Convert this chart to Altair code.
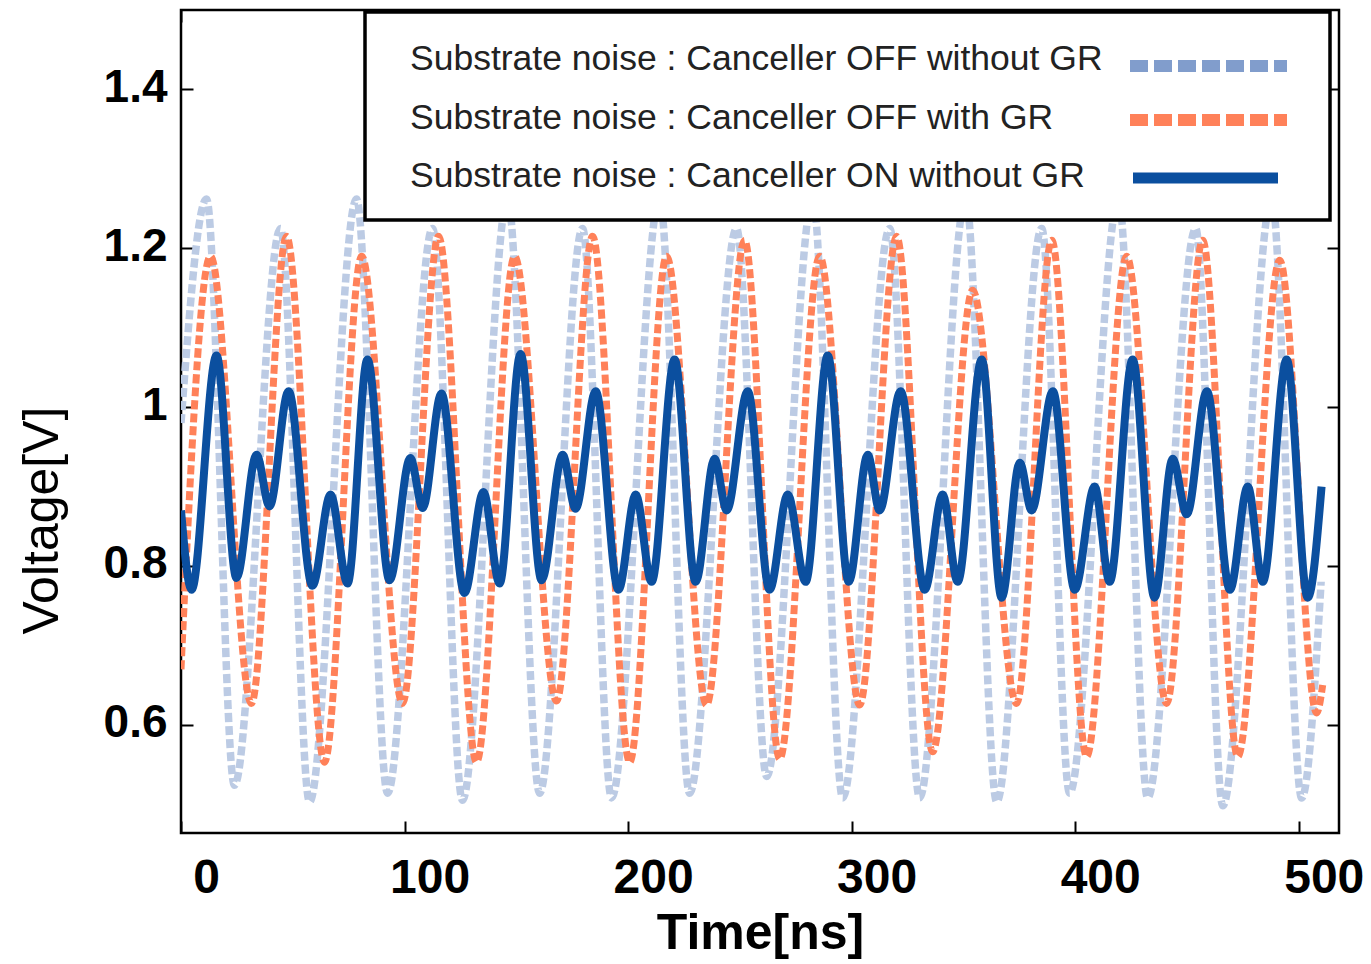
import altair as alt
import pandas as pd

# ---------------- data ----------------
series_names = [
    "Substrate noise : Canceller OFF without GR",
    "Substrate noise : Canceller OFF with GR",
    "Substrate noise : Canceller ON without GR",
]

# Canceller OFF without GR (light blue dashed) - extrema
t_off_nogr = [0, 11.4, 23.9, 44.5, 57.5, 78.5, 92.4, 112.5, 125.9, 146.1, 160.4,
              179.6, 192.6, 214.1, 227.5, 248.5, 262.0, 282.6, 296.0, 317.0, 330.4,
              351.0, 364.9, 385.0, 397.5, 419.4, 432.4, 453.9, 466.0, 487.9, 501.3, 510.0]
v_off_nogr = [0.98, 1.262, 0.524, 1.225, 0.503, 1.262, 0.514, 1.225, 0.505, 1.262, 0.514,
              1.225, 0.508, 1.262, 0.514, 1.225, 0.535, 1.262, 0.508, 1.225, 0.508,
              1.262, 0.503, 1.225, 0.514, 1.262, 0.508, 1.225, 0.498, 1.262, 0.508, 0.78]

# Canceller OFF with GR (orange dashed) - extrema
t_off_gr = [0, 13.2, 31.5, 47.2, 64.2, 80.8, 99.1, 115.2, 132.2, 149.2, 168.0,
            184.1, 200.7, 217.2, 235.1, 252.1, 267.8, 285.7, 303.6, 320.1, 336.2,
            354.1, 373.8, 389.5, 405.1, 423.0, 440.9, 457.0, 472.7, 491.5, 508.0, 510.7]
v_off_gr = [0.67, 1.19, 0.627, 1.215, 0.553, 1.19, 0.627, 1.215, 0.553, 1.19, 0.63,
            1.215, 0.553, 1.19, 0.625, 1.21, 0.557, 1.19, 0.625, 1.215, 0.566,
            1.147, 0.627, 1.21, 0.56, 1.19, 0.627, 1.21, 0.56, 1.185, 0.615, 0.65]

# Canceller ON without GR (dark blue solid) - extrema
t_on_nogr = [0, 4.7, 15.9, 24.8, 33.8, 39.6, 48.1, 58.8, 66.9, 74.5,
             83.4, 93.3, 102.6, 108.1, 116.5, 126.8, 135.3, 142.5,
             151.9, 161.3, 170.7, 176.5, 185.5, 195.7, 203.4, 210.5,
             220.8, 230.2, 238.7, 244.1, 253.5, 263.3, 271.4, 279.4,
             289.3, 298.7, 307.2, 312.5, 321.9, 332.7, 340.7, 347.4,
             358.2, 367.1, 375.2, 380.5, 390.0, 399.8, 408.7, 415.4,
             425.7, 435.5, 443.6, 449.9, 458.9, 469.2, 477.2, 483.9,
             494.6, 504.0, 510.2]
v_on_nogr = [0.87, 0.77, 1.065, 0.785, 0.94, 0.875, 1.02, 0.775, 0.89, 0.778,
             1.06, 0.782, 0.936, 0.873, 1.017, 0.766, 0.893, 0.778,
             1.067, 0.782, 0.94, 0.872, 1.02, 0.77, 0.89, 0.78,
             1.06, 0.78, 0.935, 0.87, 1.02, 0.77, 0.89, 0.78,
             1.065, 0.78, 0.94, 0.87, 1.02, 0.77, 0.89, 0.78,
             1.06, 0.76, 0.93, 0.87, 1.02, 0.77, 0.90, 0.78,
             1.06, 0.76, 0.935, 0.865, 1.02, 0.77, 0.90, 0.78,
             1.06, 0.76, 0.90]

x_ticks = [0, 100, 200, 300, 400, 500]
y_ticks = [0.6, 0.8, 1.0, 1.2, 1.4]

# ---------------- styling ----------------
FONT = "Liberation Sans"
W, H = 1158, 823
TICK = 12
c_lb, c_lb_leg = "#bccbe4", "#819dcc"
c_or = "#ff8159"
c_db = "#0b4f9f"

xscale = alt.Scale(domain=[0, 518], nice=False, zero=False)
yscale = alt.Scale(domain=[0.4638, 1.5], nice=False, zero=False)

ax_bottom = alt.Axis(orient="bottom", values=x_ticks, title="Time[ns]", offset=-TICK,
                     domain=False, grid=False, tickSize=TICK, tickWidth=2, tickColor="black",
                     labelFont=FONT, labelFontSize=48, labelFontWeight="bold", labelColor="black",
                     labelPadding=21, labelOffset=25, labelFlush=False, labelOverlap=False,
                     titleFont=FONT, titleFontSize=50, titleFontWeight="bold", titleColor="black",
                     titlePadding=6)
ax_left = alt.Axis(orient="left", values=y_ticks, format="~g", title="Voltage[V]", offset=-TICK,
                   domain=False, grid=False, tickSize=TICK, tickWidth=2, tickColor="black",
                   labelFont=FONT, labelFontSize=46, labelFontWeight="bold", labelColor="black",
                   labelPadding=14, labelOffset=-2, labelOverlap=False,
                   titleFont=FONT, titleFontSize=50, titleFontWeight="normal", titleColor="black",
                   titleAngle=270, titleX=-151, titleY=510, titleAlign="center", titleBaseline="middle")
ax_top = alt.Axis(orient="top", values=x_ticks, title="", offset=-TICK, domain=False, grid=False,
                  tickSize=TICK, tickWidth=2, tickColor="black", labels=False)
ax_right = alt.Axis(orient="right", values=y_ticks, title="", offset=-TICK, domain=False, grid=False,
                    tickSize=TICK, tickWidth=2, tickColor="black", labels=False)


def line_layer(t, v, color, width, dash=None, ax_x=None, ax_y=None, opacity=1.0):
    df = pd.DataFrame({"t": t, "v": v})
    mk = dict(color=color, strokeWidth=width, interpolate="monotone", clip=True, opacity=opacity)
    if dash:
        mk["strokeDash"] = dash
    xk = dict(scale=xscale, axis=ax_x) if ax_x is not None else dict(scale=xscale, axis=None)
    yk = dict(scale=yscale, axis=ax_y) if ax_y is not None else dict(scale=yscale, axis=None)
    return alt.Chart(df).mark_line(**mk).encode(x=alt.X("t:Q", **xk), y=alt.Y("v:Q", **yk))


l_lb = line_layer(t_off_nogr, v_off_nogr, c_lb, 7.5, [9, 4], ax_bottom, ax_left)
l_or = line_layer(t_off_gr, v_off_gr, c_or, 7, [9, 4])
l_db = line_layer(t_on_nogr, v_on_nogr, c_db, 8)
l_axes2 = line_layer(t_off_nogr, v_off_nogr, c_lb, 1, None, ax_top, ax_right, opacity=0)

# ---------------- legend (drawn inside the plot, symbols right of labels) ----------------
one = pd.DataFrame({"k": [0]})
leg_box = alt.Chart(one).mark_rect(fill="white", stroke="black", strokeWidth=3.5).encode(
    x=alt.value(184), x2=alt.value(1149), y=alt.value(2), y2=alt.value(210))

leg_rows_y = [49, 108, 166]
leg_sym_y = [56, 110, 168]
leg_colors = [c_lb_leg, c_or, c_db]
leg_dash = [[18, 6], [18, 6], None]

legend_layers = [leg_box]
for i in range(3):
    legend_layers.append(
        alt.Chart(one).mark_text(text=series_names[i], align="left", baseline="middle",
                                 font=FONT, fontSize=35.5, color="#222222").encode(
            x=alt.value(229), y=alt.value(leg_rows_y[i])))
    rk = dict(color=leg_colors[i], strokeWidth=12 if leg_dash[i] else 11)
    if leg_dash[i]:
        rk["strokeDash"] = leg_dash[i]
    x1, x2 = (949, 1106) if leg_dash[i] else (952, 1097)
    legend_layers.append(
        alt.Chart(one).mark_rule(**rk).encode(x=alt.value(x1), x2=alt.value(x2), y=alt.value(leg_sym_y[i])))

chart = alt.layer(l_axes2, l_lb, l_or, l_db, *legend_layers).resolve_axis(
    x="independent", y="independent"
).properties(
    width=W, height=H, background="white",
    autosize=alt.AutoSizeParams(type="none"),
    padding={"left": 173, "top": 2, "right": 24, "bottom": 130},
).configure_view(stroke="black", strokeWidth=2.5)

chart.save("out.html", embed_options={"renderer": "svg", "actions": False})
